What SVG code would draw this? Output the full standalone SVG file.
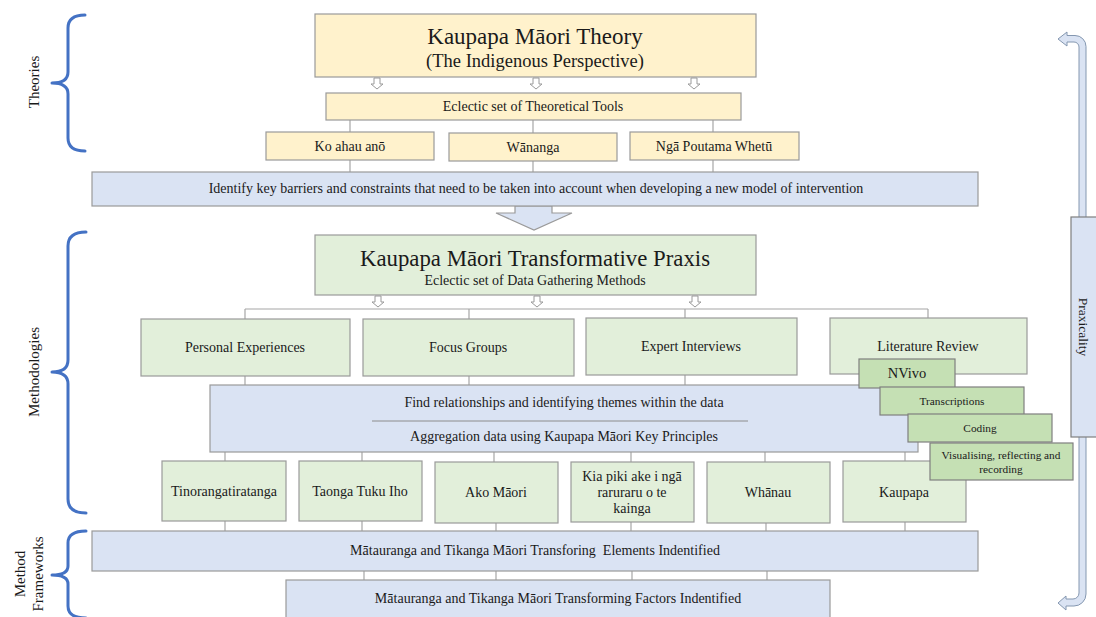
<svg xmlns="http://www.w3.org/2000/svg" width="1096" height="617" viewBox="0 0 1096 617" font-family="'Liberation Serif', 'DejaVu Serif', serif">
  <style>
    text { font-family: 'Liberation Serif', 'DejaVu Serif', serif; fill: #1a1a1a; text-anchor: middle; }
    .yel { fill: #fff2cc; stroke: #9a9a9a; stroke-width: 1.2; }
    .blu { fill: #dae3f3; stroke: #9a9a9a; stroke-width: 1.2; }
    .grn { fill: #e2efda; stroke: #9a9a9a; stroke-width: 1.2; }
    .dgr { fill: #c5e0b4; stroke: #7f7f7f; stroke-width: 1.2; }
    .con line { stroke: #a6a6a6; stroke-width: 1.2; }
    .brace { fill: none; stroke: #4472c4; stroke-width: 3; stroke-linecap: round; stroke-linejoin: round; }
    .hollow { fill: #ffffff; stroke: #9a9a9a; stroke-width: 1; }
    .lbl { font-size: 14px; }
  </style>
  <defs>
    <path id="smallArrow" d="M-3,0 L3,0 L3,6 L6,6 L0,11 L-6,6 L-3,6 Z"/>
  </defs>
  <rect width="1096" height="617" fill="#ffffff"/>

  <!-- section braces and labels -->
  <g id="brace-theories">
    <path class="brace" d="M85,15 Q68,15 68,28 L68,72 Q68,83 52,83 Q68,83 68,94 L68,138 Q68,151 85,151"/>
    <text transform="translate(39,82) rotate(-90)" font-size="15">Theories</text>
  </g>
  <g id="brace-methodologies">
    <path class="brace" d="M86,232 Q68,232 68,246 L68,360 Q68,372 52,372 Q68,372 68,384 L68,499 Q68,513 86,513"/>
    <text transform="translate(39,372) rotate(-90)" font-size="15">Methodologies</text>
  </g>
  <g id="brace-frameworks">
    <path class="brace" d="M86,531 Q68,531 68,543 L68,566 Q68,575 52,575 Q68,575 68,584 L68,606 Q68,618 86,618"/>
    <text transform="translate(25,574) rotate(-90)" font-size="15">Method</text>
    <text transform="translate(43,574) rotate(-90)" font-size="15">Frameworks</text>
  </g>

  <!-- connectors -->
  <g id="connectors" class="con">
    <line x1="350" y1="120" x2="350" y2="132"/>
    <line x1="533" y1="120" x2="533" y2="133"/>
    <line x1="713" y1="120" x2="713" y2="132"/>
    <line x1="350" y1="160" x2="350" y2="172"/>
    <line x1="533" y1="161" x2="533" y2="172"/>
    <line x1="713" y1="160" x2="713" y2="172"/>
    <line x1="245" y1="309" x2="928" y2="309"/>
    <line x1="245" y1="309" x2="245" y2="319"/>
    <line x1="469" y1="309" x2="469" y2="319"/>
    <line x1="685" y1="309" x2="685" y2="318"/>
    <line x1="928" y1="309" x2="928" y2="318"/>
    <line x1="245" y1="376" x2="245" y2="385"/>
    <line x1="469" y1="376" x2="469" y2="385"/>
    <line x1="685" y1="375" x2="685" y2="385"/>
    <line x1="225" y1="452" x2="225" y2="461"/>
    <line x1="362" y1="452" x2="362" y2="461"/>
    <line x1="494" y1="452" x2="494" y2="462"/>
    <line x1="631" y1="452" x2="631" y2="462"/>
    <line x1="765" y1="452" x2="765" y2="462"/>
    <line x1="905" y1="452" x2="905" y2="461"/>
    <line x1="225" y1="521" x2="225" y2="531"/>
    <line x1="362" y1="521" x2="362" y2="531"/>
    <line x1="496" y1="523" x2="496" y2="531"/>
    <line x1="631" y1="522" x2="631" y2="531"/>
    <line x1="766" y1="523" x2="766" y2="531"/>
    <line x1="905" y1="522" x2="905" y2="531"/>
    <line x1="364" y1="571" x2="364" y2="580"/>
    <line x1="496" y1="571" x2="496" y2="580"/>
    <line x1="632" y1="571" x2="632" y2="580"/>
    <line x1="767" y1="571" x2="767" y2="580"/>
    <use href="#smallArrow" class="hollow" x="377" y="78"/>
    <use href="#smallArrow" class="hollow" x="536" y="78"/>
    <use href="#smallArrow" class="hollow" x="694" y="78"/>
    <use href="#smallArrow" class="hollow" x="378" y="296"/>
    <use href="#smallArrow" class="hollow" x="537" y="296"/>
    <use href="#smallArrow" class="hollow" x="695" y="296"/>
    <path class="blu" d="M515,206 L552,206 L552,213 L572,213 L534,230 L496,213 L515,213 Z"/>
  </g>

  <!-- theory level -->
  <g id="kaupapa-theory">
    <rect class="yel" x="315" y="14" width="441" height="63"/>
    <text x="535" y="44" font-size="23">Kaupapa Māori Theory</text>
    <text x="535" y="67" font-size="18.5">(The Indigenous Perspective)</text>
  </g>
  <g id="theoretical-tools">
    <rect class="yel" x="326" y="93" width="415" height="27"/>
    <text class="lbl" x="533" y="111">Eclectic set of Theoretical Tools</text>
  </g>
  <g id="ko-ahau-ano">
    <rect class="yel" x="266" y="132" width="168" height="28"/>
    <text class="lbl" x="350" y="151">Ko ahau anō</text>
  </g>
  <g id="wananga">
    <rect class="yel" x="449" y="133" width="168" height="28"/>
    <text class="lbl" x="533" y="152">Wānanga</text>
  </g>
  <g id="nga-poutama-whetu">
    <rect class="yel" x="630" y="132" width="169" height="28"/>
    <text class="lbl" x="714" y="151">Ngā Poutama Whetū</text>
  </g>
  <g id="identify-barriers">
    <rect class="blu" x="92" y="172" width="886" height="34"/>
    <text class="lbl" x="536" y="193">Identify key barriers and constraints that need to be taken into account when developing a new model of intervention</text>
  </g>

  <!-- methodology level -->
  <g id="transformative-praxis">
    <rect class="grn" x="315" y="235" width="441" height="60"/>
    <text x="535" y="266" font-size="22.8">Kaupapa Māori Transformative Praxis</text>
    <text class="lbl" x="535" y="285">Eclectic set of Data Gathering Methods</text>
  </g>
  <g id="personal-experiences">
    <rect class="grn" x="141" y="319" width="209" height="57"/>
    <text class="lbl" x="245" y="352">Personal Experiences</text>
  </g>
  <g id="focus-groups">
    <rect class="grn" x="363" y="319" width="211" height="57"/>
    <text class="lbl" x="468" y="352">Focus Groups</text>
  </g>
  <g id="expert-interviews">
    <rect class="grn" x="586" y="318" width="211" height="57"/>
    <text class="lbl" x="691" y="351">Expert Interviews</text>
  </g>
  <g id="literature-review">
    <rect class="grn" x="830" y="318" width="197" height="56"/>
    <text class="lbl" x="928" y="351">Literature Review</text>
  </g>
  <g id="themes">
    <rect class="blu" x="210" y="385" width="708" height="67"/>
    <line x1="372" y1="421" x2="748" y2="421" stroke="#8c8c8c" stroke-width="1"/>
    <text class="lbl" x="564" y="407">Find relationships and identifying themes within the data</text>
    <text class="lbl" x="564" y="441">Aggregation data using Kaupapa Māori Key Principles</text>
  </g>
  <g id="tinorangatiratanga">
    <rect class="grn" x="162" y="461" width="124" height="60"/>
    <text class="lbl" x="224" y="496">Tinorangatiratanga</text>
  </g>
  <g id="taonga-tuku-iho">
    <rect class="grn" x="299" y="461" width="123" height="60"/>
    <text class="lbl" x="360" y="496">Taonga Tuku Iho</text>
  </g>
  <g id="ako-maori">
    <rect class="grn" x="435" y="462" width="123" height="61"/>
    <text class="lbl" x="496" y="497">Ako Māori</text>
  </g>
  <g id="kia-piki">
    <rect class="grn" x="571" y="462" width="123" height="60"/>
    <text class="lbl" x="632" y="481">Kia piki ake i ngā</text>
    <text class="lbl" x="632" y="497">raruraru o te</text>
    <text class="lbl" x="632" y="513">kainga</text>
  </g>
  <g id="whanau">
    <rect class="grn" x="707" y="462" width="123" height="61"/>
    <text class="lbl" x="768" y="497">Whānau</text>
  </g>
  <g id="kaupapa">
    <rect class="grn" x="843" y="461" width="123" height="61"/>
    <text class="lbl" x="904" y="497">Kaupapa</text>
  </g>

  <!-- analysis tool stack -->
  <g id="nvivo">
    <rect class="dgr" x="859" y="359" width="96" height="29"/>
    <text x="907" y="378" font-size="14.5">NVivo</text>
  </g>
  <g id="transcriptions">
    <rect class="dgr" x="880" y="387" width="144" height="28"/>
    <text x="952" y="405" font-size="11.3">Transcriptions</text>
  </g>
  <g id="coding">
    <rect class="dgr" x="908" y="414" width="144" height="28"/>
    <text x="980" y="432" font-size="11.3">Coding</text>
  </g>
  <g id="visualising">
    <rect class="dgr" x="930" y="443" width="143" height="37"/>
    <text x="1001" y="459" font-size="11.3">Visualising, reflecting and</text>
    <text x="1001" y="473" font-size="11.3">recording</text>
  </g>

  <!-- framework level -->
  <g id="transforming-elements">
    <rect class="blu" x="92" y="531" width="886" height="40"/>
    <text class="lbl" x="535" y="555" style="white-space: pre">Mātauranga and Tikanga Māori Transforing  Elements Indentified</text>
  </g>
  <g id="transforming-factors">
    <rect class="blu" x="286" y="580" width="544" height="45"/>
    <text class="lbl" x="558" y="603">Mātauranga and Tikanga Māori Transforming Factors Indentified</text>
  </g>

  <!-- praxicality feedback loop -->
  <g id="praxicality">
    <path fill="#dae3f3" stroke="#8497b0" stroke-width="1" d="M1058,39 L1067,32 L1067,35.5 L1075,35.5 A11,11 0 0 1 1086,46.5 L1086,594 A12,12 0 0 1 1074,606 L1066,606 L1066,610 L1058,603 L1066,596 L1066,599 L1073,599 A6,6 0 0 0 1079,593 L1079,47 A5,5 0 0 0 1074,42 L1067,42 L1067,46 Z"/>
    <rect fill="#dae3f3" stroke="#7f7f7f" stroke-width="1.2" x="1071" y="217" width="30" height="220"/>
    <text transform="translate(1079,327) rotate(90)" font-size="13.5">Praxicality</text>
  </g>
</svg>
